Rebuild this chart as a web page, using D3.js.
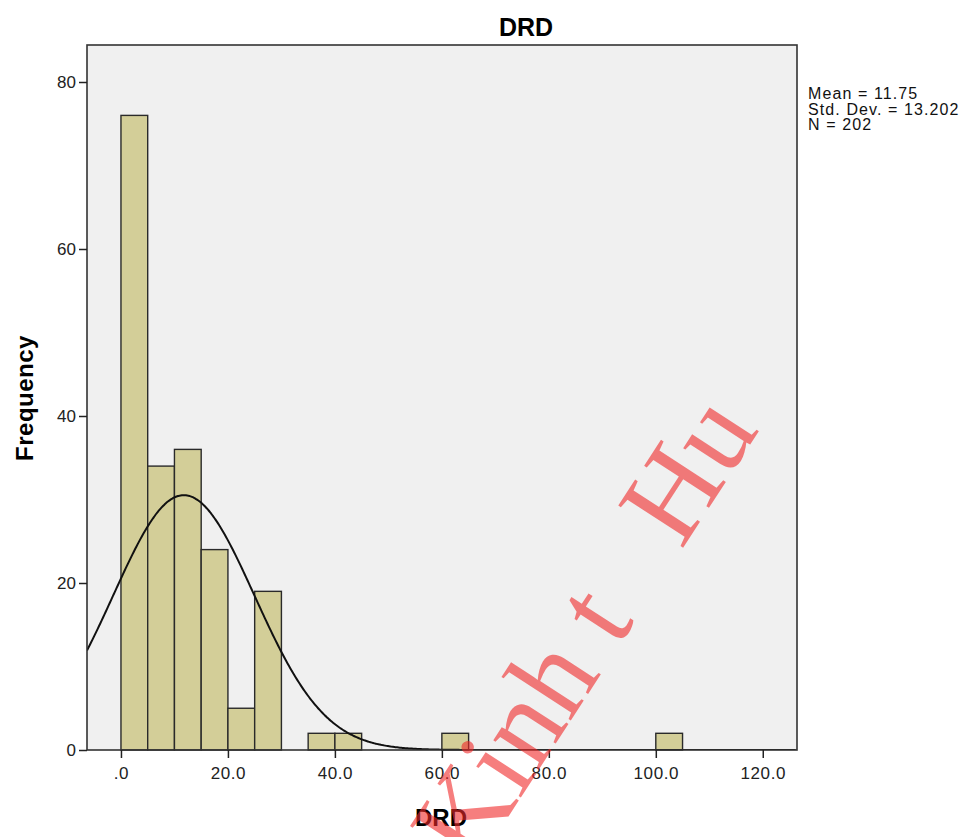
<!DOCTYPE html>
<html>
<head>
<meta charset="utf-8">
<script src="https://cdn.jsdelivr.net/npm/d3@7"></script>
<style>
  body { margin: 0; background: #fff; }
  svg { display: block; font-family: "Liberation Sans", Arial, sans-serif; }
</style>
</head>
<body>
<div id="chart"></div>
<script>
// Dados do histograma (largura da classe = 5)
const bin_starts = [0, 5, 10, 15, 20, 25, 30, 35, 40, 45, 50, 55, 60, 65, 70, 75, 80, 85, 90, 95, 100];
const frequencies = [76, 34, 36, 24, 5, 19, 0, 2, 2, 0, 0, 0, 2, 0, 0, 0, 0, 0, 0, 0, 2];
const bin_width = 5;
const x_ticks = [0, 20, 40, 60, 80, 100, 120];
const y_ticks = [0, 20, 40, 60, 80];
const stats_lines = ["Mean = 11.75", "Std. Dev. = 13.202", "N = 202"];
const mean = 11.75, sd = 13.202, n = 202;

const W = 973, H = 837;
const plot = { left: 87, right: 797, top: 45, bottom: 750 };

const svg = d3.select('#chart').append('svg')
  .attr('width', W).attr('height', H);

const x = d3.scaleLinear().domain([-6.35, 126.4]).range([plot.left, plot.right]);
const y = d3.scaleLinear().domain([0, 80]).range([plot.bottom, 82]);

// fundo da área do gráfico
svg.append('rect')
  .attr('x', plot.left).attr('y', plot.top)
  .attr('width', plot.right - plot.left).attr('height', plot.bottom - plot.top)
  .attr('fill', '#f0f0f0');

svg.append('clipPath').attr('id', 'clip')
  .append('rect')
  .attr('x', plot.left).attr('y', plot.top)
  .attr('width', plot.right - plot.left).attr('height', plot.bottom - plot.top);

// barras
svg.append('g').selectAll('rect')
  .data(bin_starts.map((s, i) => ({ s, f: frequencies[i] })).filter(d => d.f > 0))
  .enter().append('rect')
  .attr('x', d => x(d.s))
  .attr('y', d => y(d.f))
  .attr('width', d => x(d.s + bin_width) - x(d.s))
  .attr('height', d => y(0) - y(d.f))
  .attr('fill', '#d3ce98')
  .attr('stroke', '#2a2a2a')
  .attr('stroke-width', 1.4);

// curva normal
const normal = v => n * bin_width * Math.exp(-0.5 * ((v - mean) / sd) ** 2) / (sd * Math.sqrt(2 * Math.PI));
const curvePts = d3.range(-6.35, 126.4, 0.25).map(v => [v, normal(v)]);
svg.append('path')
  .datum(curvePts)
  .attr('clip-path', 'url(#clip)')
  .attr('fill', 'none')
  .attr('stroke', '#111')
  .attr('stroke-width', 2)
  .attr('d', d3.line().x(d => x(d[0])).y(d => y(d[1])).curve(d3.curveBasis));

// moldura
svg.append('rect')
  .attr('x', plot.left).attr('y', plot.top)
  .attr('width', plot.right - plot.left).attr('height', plot.bottom - plot.top)
  .attr('fill', 'none')
  .attr('stroke', '#333')
  .attr('stroke-width', 1.6);

// eixo x
const xAxis = svg.append('g')
  .attr('transform', `translate(0,${plot.bottom})`)
  .call(d3.axisBottom(x).tickValues(x_ticks)
    .tickFormat(d => d === 0 ? '.0' : d3.format('.1f')(d))
    .tickSize(8).tickPadding(9));
xAxis.select('.domain').remove();
xAxis.selectAll('line').attr('stroke', '#222').attr('stroke-width', 1.5);
xAxis.selectAll('text').attr('font-size', 17).attr('fill', '#222')
  .attr('letter-spacing', 0.6)
  .attr('font-family', '"Liberation Sans", Arial, sans-serif');

// eixo y
const yAxis = svg.append('g')
  .attr('transform', `translate(${plot.left},0)`)
  .call(d3.axisLeft(y).tickValues(y_ticks).tickSize(8).tickPadding(3));
yAxis.select('.domain').remove();
yAxis.selectAll('line').attr('stroke', '#222').attr('stroke-width', 1.5);
yAxis.selectAll('text').attr('font-size', 17).attr('fill', '#222')
  .attr('font-family', '"Liberation Sans", Arial, sans-serif');

// títulos
svg.append('text')
  .attr('x', 526).attr('y', 36)
  .attr('text-anchor', 'middle')
  .attr('font-size', 25).attr('font-weight', 'bold')
  .text('DRD');

svg.append('text')
  .attr('x', 441).attr('y', 826)
  .attr('text-anchor', 'middle')
  .attr('font-size', 24).attr('font-weight', 'bold')
  .text('DRD');

svg.append('text')
  .attr('transform', 'translate(33,398) rotate(-90)')
  .attr('text-anchor', 'middle')
  .attr('font-size', 24).attr('font-weight', 'bold')
  .attr('letter-spacing', 0.5)
  .text('Frequency');

// estatísticas
svg.append('g').selectAll('text')
  .data(stats_lines)
  .enter().append('text')
  .attr('x', 808)
  .attr('y', (d, i) => 99 + i * 15.5)
  .attr('font-size', 16)
  .attr('letter-spacing', 1.1)
  .attr('fill', '#111')
  .text(d => d);

// marca d'água
const wm = svg.append('text')
  .attr('transform', 'translate(473,871) rotate(-57)')
  .attr('font-family', '"Liberation Serif", "Times New Roman", serif')
  .attr('font-size', 118)
  .attr('fill', 'rgb(240,40,40)')
  .attr('fill-opacity', 0.6);
wm.append('tspan').text('Kinh t');
wm.append('tspan').attr('dx', 84).text('Hu');
</script>
</body>
</html>
